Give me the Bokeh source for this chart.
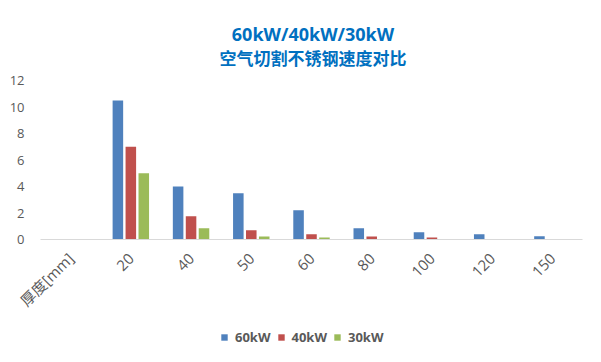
from bokeh.plotting import figure
from bokeh.models import (ColumnDataSource, FactorRange, Range1d, Legend, LegendItem,
                          FixedTicker, Div)
from bokeh.layouts import column
from bokeh.transform import dodge
from bokeh.embed import file_html
from bokeh.resources import INLINE
from math import pi

# ---- data ----
categories = ["厚度[mm]", "20", "40", "50", "60", "80", "100", "120", "150"]
series_names = ["60kW", "40kW", "30kW"]
speed_60kw = [0, 10.5, 4.0, 3.5, 2.2, 0.85, 0.55, 0.4, 0.25]
speed_40kw = [0, 7.0, 1.75, 0.7, 0.4, 0.22, 0.15, 0, 0]
speed_30kw = [0, 5.0, 0.85, 0.22, 0.15, 0, 0, 0, 0]
y_ticks = [0, 2, 4, 6, 8, 10, 12]
title_main = "60kW/40kW/30kW"
title_sub = "空气切割不锈钢速度对比"

colors = ["#4F81BD", "#C0504D", "#9BBB59"]
grey = "#595959"
title_blue = "#0070C0"
latin = "Open Sans"
cjk = "Noto Sans CJK SC"
mixed = "Open Sans, Noto Sans CJK SC"
W = 585

# ---- title block ----
title_html = (
    f'<div style="width:{W - 41}px;margin-left:41px;text-align:center;color:{title_blue};'
    f'font-weight:bold;">'
    f'<div style="font-family:\'Open Sans\';font-size:18px;line-height:24px;padding-top:22px;">{title_main}</div>'
    f'<div style="font-family:\'Noto Sans CJK SC\';font-size:17px;line-height:24px;">{title_sub}</div>'
    f'</div>'
)
title_div = Div(text=title_html, width=W, height=72, margin=0)

# ---- main chart ----
src = ColumnDataSource(dict(cat=categories, s60=speed_60kw, s40=speed_40kw, s30=speed_30kw))

p = figure(width=W, height=248,
           x_range=FactorRange(*categories, range_padding=0),
           y_range=Range1d(0, 12),
           output_backend="svg", toolbar_location=None, title=None,
           min_border_left=40, min_border_right=3,
           min_border_top=8, min_border_bottom=79)
p.outline_line_color = None
p.xgrid.grid_line_color = None
p.ygrid.grid_line_color = None

offs = [-0.215, 0.0, 0.215]
for col, off, c in zip(["s60", "s40", "s30"], offs, colors):
    p.vbar(x=dodge("cat", off, range=p.x_range), top=col, width=0.175,
           source=src, fill_color=c, line_color=None)

p.xaxis.axis_line_color = "#D9D9D9"
p.xaxis.major_tick_line_color = None
p.xaxis.minor_tick_line_color = None
p.xaxis.major_label_orientation = pi / 4
p.xaxis.major_label_text_font = mixed
p.xaxis.major_label_text_font_size = "15px"
p.xaxis.major_label_text_color = grey
p.xaxis.major_label_standoff = 10

p.yaxis.ticker = FixedTicker(ticks=y_ticks)
p.yaxis.axis_line_color = None
p.yaxis.major_tick_line_color = None
p.yaxis.minor_tick_line_color = None
p.yaxis.major_label_text_font = latin
p.yaxis.major_label_text_font_size = "13px"
p.yaxis.major_label_text_color = grey
p.yaxis.major_label_standoff = 10

# ---- legend strip ----
lg = figure(width=W, height=26, x_range=Range1d(0, 1), y_range=Range1d(0, 1),
            output_backend="svg", toolbar_location=None, title=None,
            x_axis_type=None, y_axis_type=None,
            min_border_left=0, min_border_right=0, min_border_top=0, min_border_bottom=0)
lg.outline_line_color = None
lg.xgrid.grid_line_color = None
lg.ygrid.grid_line_color = None
# zero-height swatch renderers; only their legend glyphs show
dummy = [lg.vbar(x=[0.5], top=[0], bottom=[0], width=0.0, fill_color=c, line_color=None)
         for c in colors]
legend = Legend(items=[LegendItem(label=n, renderers=[r]) for n, r in zip(series_names, dummy)],
                orientation="horizontal", location=(180, 0),
                glyph_width=8, glyph_height=8, label_standoff=7, spacing=6,
                padding=0, margin=0, label_height=10,
                label_text_font=latin, label_text_font_size="13px",
                label_text_font_style="bold", label_text_color=grey,
                border_line_color=None, background_fill_alpha=0)
lg.add_layout(legend)

layout = column(title_div, p, lg, spacing=0)
open("out.html", "w").write(file_html(layout, INLINE))
